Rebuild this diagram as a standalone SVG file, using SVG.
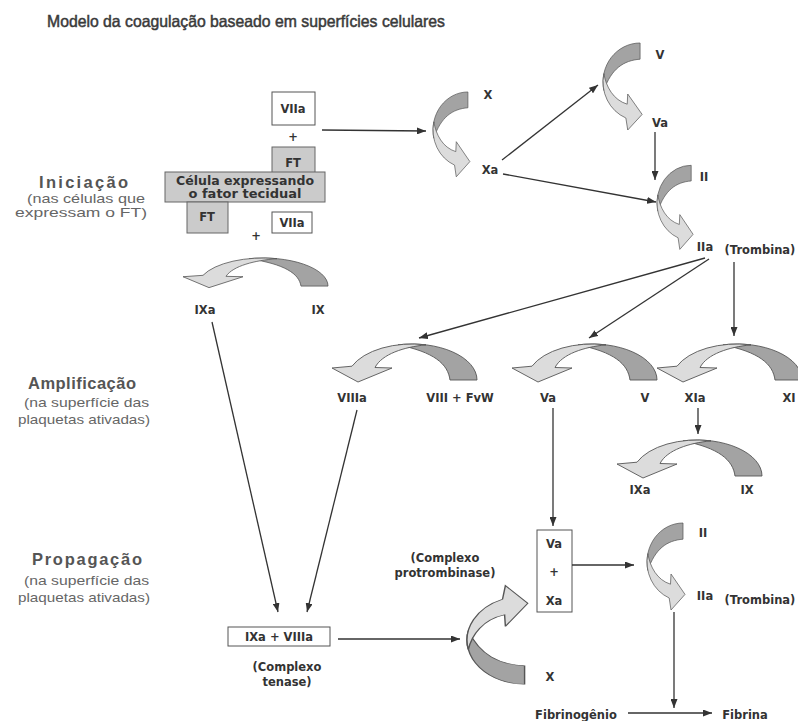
<svg xmlns="http://www.w3.org/2000/svg" xmlns:xlink="http://www.w3.org/1999/xlink" width="798" height="721" viewBox="0 0 798 721">
<style>
.title{font-family:"Liberation Sans",Arial,sans-serif;font-size:16.5px;fill:#3a3a3a;stroke:#3a3a3a;stroke-width:0.5}
.ph{font-family:"Liberation Sans",Arial,sans-serif;font-size:16.5px;font-weight:bold;fill:#555}
.ps{font-family:"Liberation Sans",Arial,sans-serif;font-size:13px;fill:#666}
.lb{font-family:"DejaVu Sans",Verdana,sans-serif;font-size:11.5px;font-weight:bold;fill:#333;text-anchor:middle}
.bx{font-family:"DejaVu Sans",Verdana,sans-serif;font-size:11.5px;font-weight:bold;fill:#333;text-anchor:middle}
.wbox{fill:#fff;stroke:#555;stroke-width:1}
.gbox{fill:#cbcbcb;stroke:#666;stroke-width:1}
.dark{fill:#a3a3a3;stroke:#555;stroke-width:0.9}
.light{fill:#dcdcdc;stroke:#555;stroke-width:0.9}
.c{stroke:#333;stroke-width:1.3;fill:none;marker-end:url(#ah)}
</style>
<defs>
<marker id="ah" markerWidth="9" markerHeight="7" refX="9" refY="3.5" orient="auto" markerUnits="userSpaceOnUse">
<path d="M0,0 L9,3.5 L0,7 Z" fill="#333"/>
</marker>
<g id="arc">
<path class="dark" d="M -14,0.85 A 65,36 0 0 1 65,36 L 38,36 C 36,20 22,8 -14,0.85 Z"/>
<path class="light" d="M 14,0.85 A 65,36 0 0 0 -60,22.2 L -80,24 L -54,38 L -20,24 L -37,23.5 C -30,10 -8,3 14,0.85 Z"/>
</g>
</defs>
<rect width="798" height="721" fill="#fff"/>

<text class="title" x="47" y="27" textLength="398" lengthAdjust="spacingAndGlyphs">Modelo da coagulação baseado em superfícies celulares</text>

<g id="phase-iniciacao">
<text class="ph" x="39" y="188" textLength="89" lengthAdjust="spacing">Iniciação</text>
<text class="ps" x="27" y="203" textLength="118" lengthAdjust="spacingAndGlyphs">(nas células que</text>
<text class="ps" x="15" y="217" textLength="132" lengthAdjust="spacingAndGlyphs">expressam o FT)</text>
</g>
<g id="phase-amplificacao">
<text class="ph" x="28" y="389" textLength="108" lengthAdjust="spacing">Amplificação</text>
<text class="ps" x="24" y="407" textLength="125" lengthAdjust="spacingAndGlyphs">(na superfície das</text>
<text class="ps" x="18" y="424" textLength="132" lengthAdjust="spacingAndGlyphs">plaquetas ativadas)</text>
</g>
<g id="phase-propagacao">
<text class="ph" x="32" y="565" textLength="110" lengthAdjust="spacing">Propagação</text>
<text class="ps" x="24" y="585" textLength="125" lengthAdjust="spacingAndGlyphs">(na superfície das</text>
<text class="ps" x="18" y="602" textLength="132" lengthAdjust="spacingAndGlyphs">plaquetas ativadas)</text>
</g>

<g id="cell">
<rect class="wbox" x="272" y="92" width="43" height="33"/>
<text class="bx" x="293" y="113">VIIa</text>
<text class="bx" x="293" y="141">+</text>
<rect class="gbox" x="272" y="147" width="43" height="30"/>
<text class="bx" x="293" y="167">FT</text>
<rect class="gbox" x="165" y="172" width="160" height="30"/>
<text class="bx" x="245" y="185" textLength="138" lengthAdjust="spacingAndGlyphs">Célula expressando</text>
<text class="bx" x="245" y="198" textLength="113" lengthAdjust="spacingAndGlyphs">o fator tecidual</text>
<rect class="gbox" x="187" y="202" width="41" height="31"/>
<text class="bx" x="207" y="221">FT</text>
<text class="bx" x="256" y="240">+</text>
<rect class="wbox" x="272" y="212" width="40" height="21"/>
<text class="bx" x="292" y="227">VIIa</text>
</g>

<g id="conv-IX-top">
<use xlink:href="#arc" href="#arc" transform="matrix(1,0,0,0.78,263,258)"/>
<text class="lb" x="205" y="314">IXa</text>
<text class="lb" x="318" y="314">IX</text>
</g>

<g id="conv-X-top">
<use xlink:href="#arc" href="#arc" transform="matrix(0,-0.585,0.97,0,433,130)"/>
<text class="lb" x="488" y="99">X</text>
<text class="lb" x="490" y="174">Xa</text>
</g>

<g id="conv-V-top">
<use xlink:href="#arc" href="#arc" transform="matrix(0,-0.6,1.03,0,603,82)"/>
<text class="lb" x="660" y="59">V</text>
<text class="lb" x="660" y="127">Va</text>
</g>

<g id="conv-II-top">
<use xlink:href="#arc" href="#arc" transform="matrix(0,-0.58,0.95,0,657,203)"/>
<text class="lb" x="704" y="181">II</text>
<text class="lb" x="705" y="251">IIa</text>
<text class="lb" x="760" y="254">(Trombina)</text>
</g>

<g id="conv-VIII">
<use xlink:href="#arc" href="#arc" transform="translate(412,344)"/>
<text class="lb" x="352" y="402">VIIIa</text>
<text class="lb" x="460" y="402">VIII + FvW</text>
</g>

<g id="conv-V-amp">
<use xlink:href="#arc" href="#arc" transform="translate(592,344)"/>
<text class="lb" x="548" y="402">Va</text>
<text class="lb" x="645" y="402">V</text>
</g>

<g id="conv-XI">
<use xlink:href="#arc" href="#arc" transform="translate(737,344)"/>
<text class="lb" x="695" y="402">XIa</text>
<text class="lb" x="789" y="402">XI</text>
</g>

<g id="conv-IX-amp">
<use xlink:href="#arc" href="#arc" transform="translate(697,440)"/>
<text class="lb" x="640" y="494">IXa</text>
<text class="lb" x="747" y="494">IX</text>
</g>

<g id="tenase">
<rect class="wbox" x="228" y="627" width="102" height="19"/>
<text class="bx" x="279" y="641">IXa + VIIIa</text>
<text class="lb" x="287" y="671">(Complexo</text>
<text class="lb" x="287" y="686">tenase)</text>
</g>

<g id="protrombinase">
<rect class="wbox" x="537" y="530" width="35" height="82"/>
<text class="bx" x="554" y="548">Va</text>
<text class="bx" x="554" y="576">+</text>
<text class="bx" x="554" y="605">Xa</text>
<text class="lb" x="445" y="562">(Complexo</text>
<text class="lb" x="445" y="577">protrombinase)</text>
</g>

<g id="conv-X-prop">
<use xlink:href="#arc" href="#arc" transform="matrix(0,0.68,1.6,0,467,640)"/>
<text class="lb" x="550" y="681">X</text>
</g>

<g id="conv-II-prop">
<use xlink:href="#arc" href="#arc" transform="matrix(0,-0.6,1,0,647,562)"/>
<text class="lb" x="703" y="537">II</text>
<text class="lb" x="705" y="600">IIa</text>
<text class="lb" x="760" y="604">(Trombina)</text>
</g>

<g id="fibrin">
<text class="lb" x="576" y="719">Fibrinogênio</text>
<text class="lb" x="745" y="719">Fibrina</text>
</g>

<g id="connectors">
<line class="c" x1="322" y1="130" x2="426" y2="131"/>
<line class="c" x1="502" y1="160" x2="598" y2="85"/>
<line class="c" x1="503" y1="174" x2="656" y2="202"/>
<line class="c" x1="655" y1="132" x2="655" y2="180"/>
<line class="c" x1="705" y1="258" x2="419" y2="338"/>
<line class="c" x1="709" y1="259" x2="589" y2="338"/>
<line class="c" x1="734" y1="262" x2="734" y2="336"/>
<line class="c" x1="553" y1="408" x2="553" y2="526"/>
<line class="c" x1="698" y1="408" x2="698" y2="434"/>
<line class="c" x1="212" y1="322" x2="278" y2="612"/>
<line class="c" x1="357" y1="410" x2="307" y2="612"/>
<line class="c" x1="338" y1="639" x2="460" y2="639"/>
<line class="c" x1="572" y1="565" x2="634" y2="565"/>
<line class="c" x1="674" y1="612" x2="674" y2="708"/>
<line class="c" x1="628" y1="713" x2="712" y2="713"/>
</g>
</svg>
